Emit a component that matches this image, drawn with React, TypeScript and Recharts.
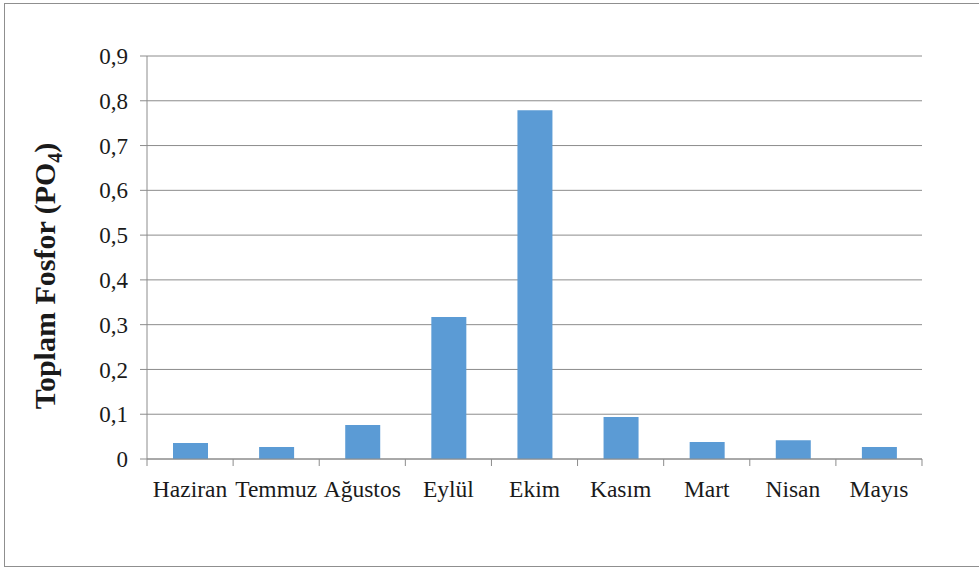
import React from 'react'
import { BarChart, Bar, XAxis, YAxis, CartesianGrid } from 'recharts'

const months = ['Haziran', 'Temmuz', 'Ağustos', 'Eylül', 'Ekim', 'Kasım', 'Mart', 'Nisan', 'Mayıs']
const phosphate = [0.036, 0.027, 0.076, 0.317, 0.779, 0.094, 0.038, 0.042, 0.027]
const yTicks = [0, 0.1, 0.2, 0.3, 0.4, 0.5, 0.6, 0.7, 0.8, 0.9]

const data = months.map((m, i) => ({ month: m, value: phosphate[i] }))

const FONT = '"Liberation Serif", "Times New Roman", serif'
const GRID = '#8c8c8c'

// Excel style: tick marks sit between categories, not under them
const MonthTick = (props: any) => {
  const { x, y, payload, index } = props
  const half = 86.1 / 2
  const axisY = y - 8
  return (
    <g>
      <line x1={x - half} y1={axisY} x2={x - half} y2={axisY + 7} stroke={GRID} />
      {index === months.length - 1 && (
        <line x1={x + half} y1={axisY} x2={x + half} y2={axisY + 7} stroke={GRID} />
      )}
      <text x={x} y={axisY + 38} textAnchor="middle" style={{ fontFamily: FONT, fontSize: 23.5 }} fill="#1a1a1a">
        {payload.value}
      </text>
    </g>
  )
}

const YLabel = () => (
  <text
    x={0}
    y={0}
    transform="translate(55, 276) rotate(-90)"
    textAnchor="middle"
    style={{ fontFamily: FONT, fontSize: 30, fontWeight: 'bold' }}
    fill="#1a1a1a"
  >
    Toplam Fosfor (PO<tspan style={{ fontSize: 20 }} dy={7}>4</tspan><tspan dy={-7}>)</tspan>
  </text>
)

export default function App() {
  return (
    <div style={{ position: 'absolute', left: 0, top: 0, width: 979, height: 569, background: '#fff', overflow: 'hidden', fontFamily: FONT }}>
      <div style={{ position: 'absolute', left: 4, top: 3, width: 990, height: 562, border: '1px solid #8f8f8f' }} />
      <div style={{ position: 'absolute', left: 0, top: 0 }}>
        <BarChart width={979} height={569} data={data} margin={{ top: 56, right: 57, bottom: 80, left: 87 }} barCategoryGap={0} style={{ fontFamily: FONT }}>
          <CartesianGrid vertical={false} stroke={GRID} />
          <XAxis
            dataKey="month"
            height={30}
            axisLine={{ stroke: GRID }}
            tickLine={false}
            tick={<MonthTick />}
            interval={0}
          />
          <YAxis
            width={60}
            domain={[0, 0.9]}
            ticks={yTicks}
            interval={0}
            axisLine={{ stroke: GRID }}
            tickLine={{ stroke: GRID }}
            tickSize={7}
            tickMargin={12}
            tickFormatter={(v: number) => (v === 0 ? '0' : v.toFixed(1).replace('.', ','))}
            tick={{ fontFamily: FONT, fontSize: 23, fill: '#1a1a1a', style: { fontFamily: FONT } }}
          />
          <Bar dataKey="value" fill="#5b9bd5" barSize={35} isAnimationActive={false} />
          <YLabel />
        </BarChart>
      </div>
    </div>
  )
}
